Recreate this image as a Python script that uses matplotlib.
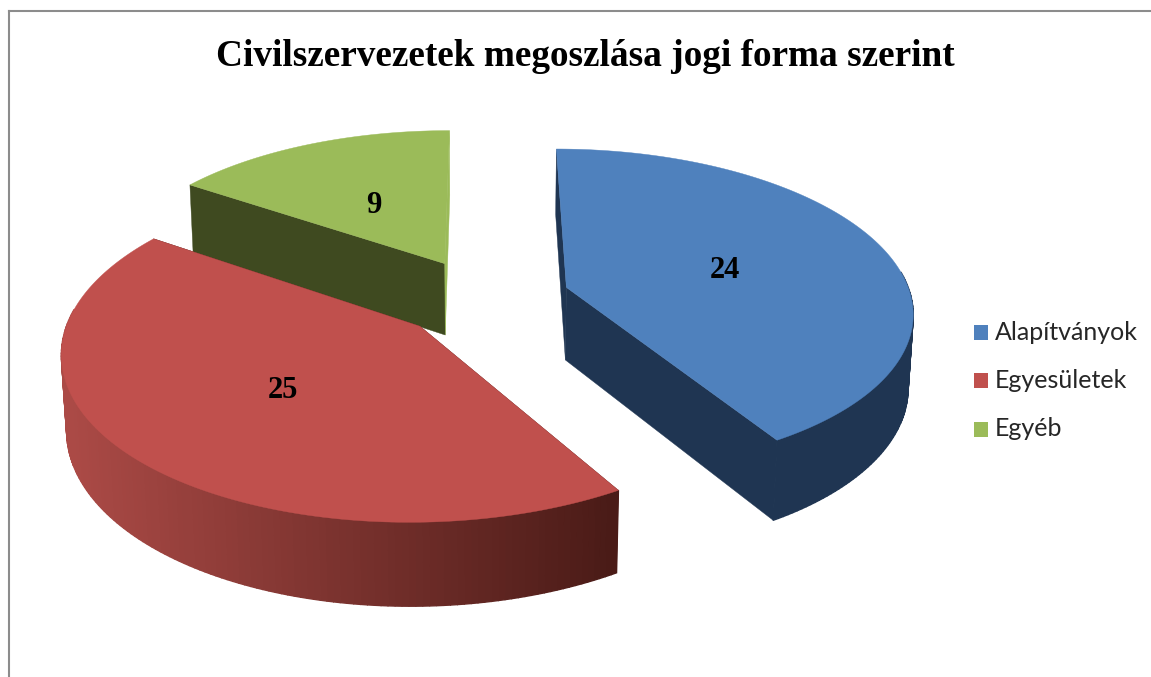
import numpy as np
import matplotlib
matplotlib.use('Agg')
import matplotlib.pyplot as plt
from matplotlib.colors import to_rgb

labels = ['Alapítványok', 'Egyesületek', 'Egyéb']
values = [24, 25, 9]
top_colors = ['#4F81BD', '#C0504D', '#9BBB59']
wall_light = ['#1F3552', '#AB4A46', '#3F4A20']
wall_dark = ['#1F3552', '#4A1B17', '#3F4A20']

W, H = 1151, 677
CX, CY = 484, 298
RX, RY = 345, 160.3
TILT = 0.1386
DROP = 0.012
DEPTH = 74
EXPLODE = 0.25


def project(x, y, z=0.0):
    w = 1 + TILT * y + DROP * z
    return CX + RX * x / w, CY - RY * y / w + DEPTH * z / w


def mix(a, b, t):
    a, b = np.array(to_rgb(a)), np.array(to_rgb(b))
    return tuple(a + (b - a) * t)


fig = plt.figure(figsize=(W / 100, H / 100), dpi=100)
ax = fig.add_axes([0, 0, 1, 1])
ax.set_xlim(0, W)
ax.set_ylim(H, 0)
ax.axis('off')

# frame of the chart
ax.plot([9, 9], [H, 10.5], color='#8C8C8C', lw=1.5)
ax.plot([9, W], [10.5, 10.5], color='#8C8C8C', lw=1.5)

total = sum(values)
spans = [v / total * 2 * np.pi for v in values]
starts = np.cumsum([0] + spans[:-1])
order = [2, 0, 1]  # back slice first

for i in order:
    a0, a1 = starts[i], starts[i] + spans[i]
    mid = (a0 + a1) / 2
    ox, oy = EXPLODE * np.sin(mid), EXPLODE * np.cos(mid)
    t = np.linspace(a0, a1, 160)
    xs = ox + np.sin(t)
    ys = oy + np.cos(t)

    # inner walls, the far edge of the green slice only shows as a light sliver
    for n, (ex, ey) in enumerate([(xs[0], ys[0]), (xs[-1], ys[-1])]):
        quad = [project(ox, oy), project(ex, ey), project(ex, ey, 1), project(ox, oy, 1)]
        c = top_colors[i] if (i == 2 and n == 1) else wall_dark[i]
        ax.fill(*zip(*quad), color=c, lw=0.3, zorder=2)

    # outer wall, shaded along the arc, only the part facing the viewer
    for j in range(len(t) - 1):
        if np.cos(t[j]) > 0.1:
            continue
        sx = project(xs[j], ys[j])[0]
        c = mix(wall_light[i], wall_dark[i], np.clip((sx - 70) / 545, 0, 1))
        quad = [project(xs[j], ys[j]), project(xs[j + 1], ys[j + 1]),
                project(xs[j + 1], ys[j + 1], 1), project(xs[j], ys[j], 1)]
        ax.fill(*zip(*quad), color=c, lw=1.0, zorder=3)

    # top face
    px = [project(ox, oy)[0]] + [project(a, b)[0] for a, b in zip(xs, ys)]
    py = [project(ox, oy)[1]] + [project(a, b)[1] for a, b in zip(xs, ys)]
    ax.fill(px, py, color=top_colors[i], lw=0.3, zorder=4)

    # value label
    lx, ly = project(ox + 0.495 * np.sin(mid), oy + 0.495 * np.cos(mid))
    ax.text(lx, ly + 4, str(values[i]), family='Liberation Serif', weight='bold',
            fontsize=22, ha='center', va='center', color='black', zorder=5)

ax.text(585, 56, 'Civilszervezetek megoszlása jogi forma szerint', family='Liberation Serif',
        weight='bold', fontsize=26.8, ha='center', va='center', color='black')

for k, name in enumerate(labels):
    y = 332 + k * 48.5
    ax.fill([974, 988.5, 988.5, 974], [y - 7.5, y - 7.5, y + 7.5, y + 7.5], color=top_colors[k], lw=0)
    ax.text(995, y, name, family='Lato', fontsize=18, ha='left', va='center', color='#262626')

fig.savefig('out.png', dpi=100)
